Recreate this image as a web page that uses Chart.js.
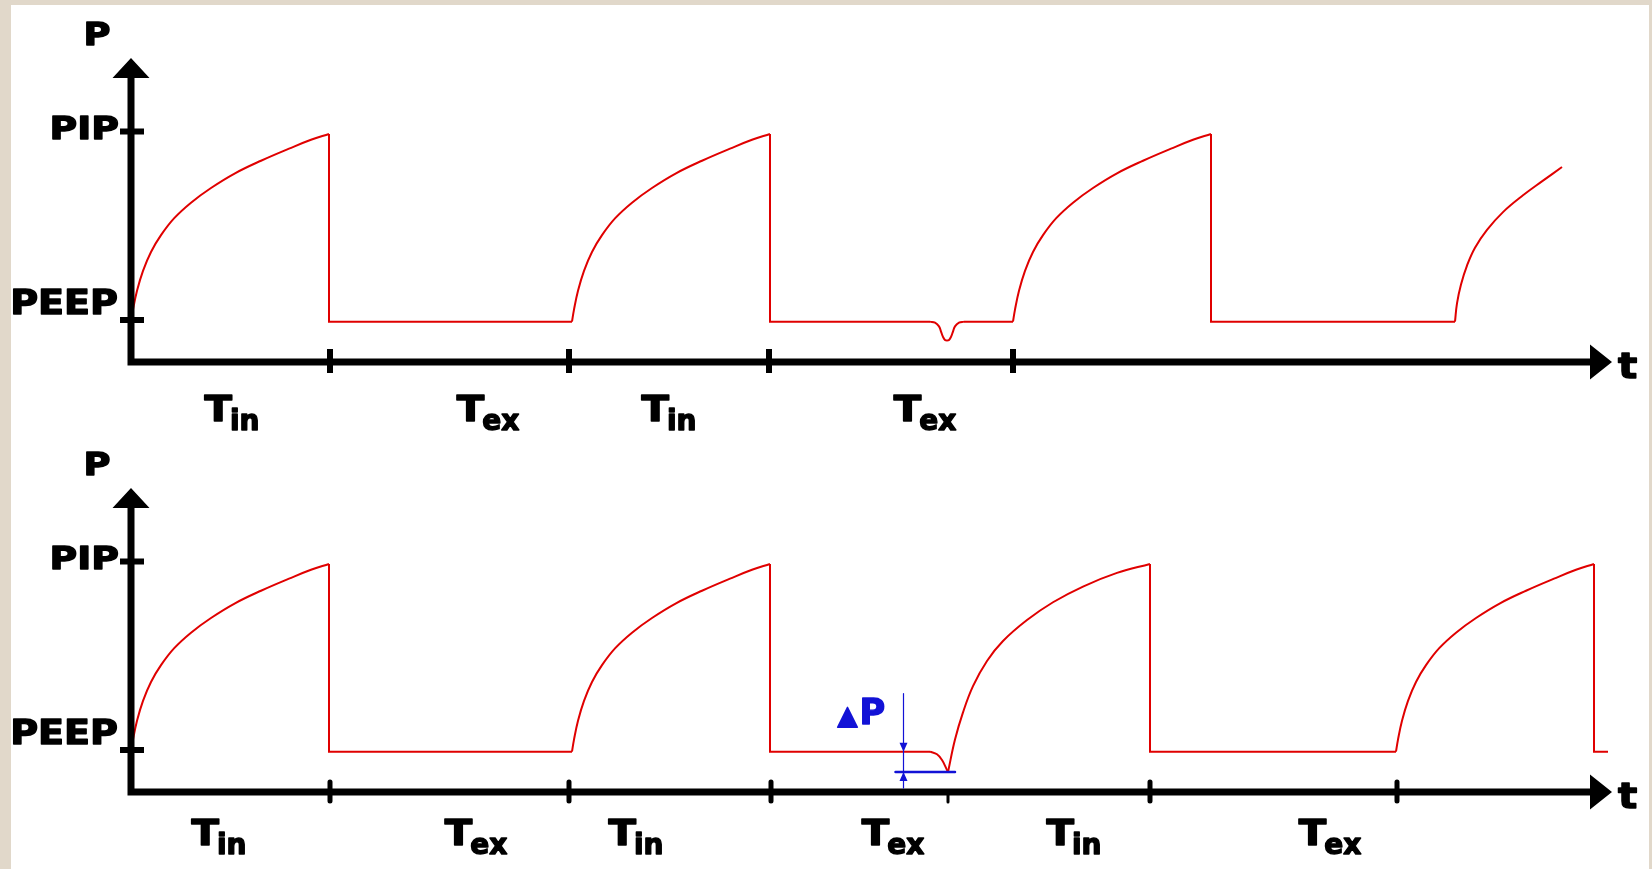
<!DOCTYPE html>
<html lang="en">
<head>
  <meta charset="UTF-8">
  <title>Airway pressure – mandatory and triggered breaths</title>
  <script src="https://cdn.jsdelivr.net/npm/chart.js"></script>
  <style>
    body {
      margin: 0;
      width: 1652px;
      height: 869px;
      overflow: hidden;
      position: relative;
      background: #e1d8ca;
    }
    .sheet {
      position: absolute;
      left: 11px;
      top: 5px;
      width: 1638px;
      height: 864px;
      background: #fff;
    }
    canvas {
      position: absolute;
      left: 0;
    }
    #topChart { top: 0; }
    #bottomChart { top: 430px; }
  </style>
</head>
<body>
  <div class="sheet"></div>
  <canvas id="topChart" width="1652" height="445"></canvas>
  <canvas id="bottomChart" width="1652" height="439"></canvas>

  <script>
    // pressure levels and axis ranges
    const PEEP = 4;
    const PIP = 22;
    const BASE = 3.85;      // expiratory plateau
    const T_MAX = 14.81;
    const P_MAX = 29;

    // one mandatory breath: [time since start, pressure]
    const riseShape = [[0, 3.85], [0.02, 5.0], [0.06, 6.8], [0.12, 8.7], [0.2, 10.5], [0.3, 12.1], [0.43, 13.7],
      [0.6, 15.2], [0.8, 16.6], [1.04, 18.0], [1.3, 19.2], [1.58, 20.35], [1.8, 21.2], [1.98, 21.75]];

    // upper trace: time-cycled breaths, one ignored effort
    const topBreaths = [0, 4.41, 8.82];
    const topDip = [[7.99, 3.85], [8.04, 3.75], [8.08, 3.4], [8.10, 2.9], [8.12, 2.4], [8.14, 2.1], [8.16, 2.05],
      [8.18, 2.1], [8.20, 2.4], [8.22, 2.9], [8.24, 3.4], [8.28, 3.75], [8.33, 3.85]];
    const topTail = [[13.24, 3.85], [13.26, 5.6], [13.30, 7.4], [13.36, 9.2], [13.44, 10.9], [13.56, 12.6],
      [13.72, 14.3], [13.92, 15.9], [14.12, 17.3], [14.31, 18.6]];
    const topTicks = [1.99, 4.38, 6.38, 8.82];
    const topPhases = [['in', 1.01], ['ex', 3.57], ['in', 5.38], ['ex', 7.94]];

    // lower trace: the effort triggers a breath
    const bottomBreaths = [0, 4.41, 12.65];
    const bottomDip = [[7.99, 3.85], [8.06, 3.6], [8.11, 3.05], [8.15, 2.3], [8.17, 1.9]];
    const bottomTrigger = [[8.17, 1.9], [8.24, 5.0], [8.32, 7.6], [8.42, 10.1], [8.56, 12.5], [8.72, 14.4],
      [8.96, 16.4], [9.22, 18.1], [9.52, 19.6], [9.86, 20.9], [10.19, 21.75]];
    const bottomEnd = 14.77;
    const bottomTicks = [1.99, 4.38, 6.40, 10.19, 12.66];
    const bottomMinorTicks = [8.17];
    const bottomPhases = [['in', 0.88], ['ex', 3.45], ['in', 5.05], ['ex', 7.62], ['in', 9.43], ['ex', 11.99]];
    const deltaPAt = 7.72;

    const RED = '#e00000';
    const INK = '#000';
    const BLUE = '#1212d6';
    const FONT = '"DejaVu Sans", sans-serif';

    function rise(start) {
      return riseShape.map(([dt, p]) => [start + dt, p]);
    }

    // smooth runs joined by straight drops to the plateau and flat stretches
    function segments(runs) {
      const segs = [];
      runs.forEach((run, i) => {
        if (i > 0) {
          const prev = runs[i - 1];
          const last = prev[prev.length - 1];
          const first = run[0];
          if (last[0] !== first[0] || last[1] !== first[1]) {
            const step = [last];
            if (last[1] !== BASE) step.push([last[0], BASE]);
            step.push(first);
            segs.push({ smooth: false, pts: step });
          }
        }
        segs.push({ smooth: true, pts: run });
      });
      return segs;
    }

    const topSegments = segments([
      rise(topBreaths[0]), rise(topBreaths[1]), topDip, rise(topBreaths[2]), topTail
    ]);
    const bottomSegments = segments([
      rise(bottomBreaths[0]), rise(bottomBreaths[1]), bottomDip, bottomTrigger,
      rise(bottomBreaths[2]), [[bottomEnd, BASE]]
    ]);

    // heavy bold text, optionally stretched sideways
    function label(ctx, str, x, y, size, align, sx, color) {
      ctx.save();
      ctx.font = 'bold ' + size + 'px ' + FONT;
      ctx.textAlign = align;
      ctx.textBaseline = 'alphabetic';
      ctx.fillStyle = color || INK;
      ctx.strokeStyle = color || INK;
      ctx.lineWidth = 1.4;
      ctx.lineJoin = 'round';
      ctx.translate(x, y);
      ctx.scale(sx, 1);
      ctx.fillText(str, 0, 0);
      ctx.strokeText(str, 0, 0);
      ctx.restore();
    }

    function axesPlugin(cfg) {
      return {
        id: 'pressureAxes',
        afterDatasetsDraw(chart) {
          const { ctx, scales: { x, y } } = chart;
          const x0 = x.getPixelForValue(0);
          const y0 = y.getPixelForValue(0);
          const top = y.getPixelForValue(P_MAX);
          const right = x.getPixelForValue(T_MAX);

          ctx.save();
          ctx.fillStyle = INK;
          ctx.strokeStyle = INK;

          // axis lines
          ctx.lineWidth = 7;
          ctx.lineCap = 'butt';
          ctx.beginPath();
          ctx.moveTo(x0, y0 + 3.5);
          ctx.lineTo(x0, top + 18);
          ctx.moveTo(x0 - 3.5, y0);
          ctx.lineTo(right - 20, y0);
          ctx.stroke();

          // arrowheads
          ctx.beginPath();
          ctx.moveTo(x0 - 18.5, top + 20);
          ctx.lineTo(x0 + 18.5, top + 20);
          ctx.lineTo(x0, top);
          ctx.closePath();
          ctx.moveTo(right - 22, y0 - 17.5);
          ctx.lineTo(right - 22, y0 + 17.5);
          ctx.lineTo(right, y0);
          ctx.closePath();
          ctx.fill();

          // PIP / PEEP ticks
          ctx.lineWidth = 6;
          ctx.beginPath();
          [PIP, PEEP].forEach(v => {
            const py = y.getPixelForValue(v);
            ctx.moveTo(x0 - 11, py);
            ctx.lineTo(x0 + 13, py);
          });
          ctx.stroke();

          // time ticks
          ctx.lineWidth = cfg.tickWidth;
          ctx.lineCap = cfg.tickCap;
          ctx.beginPath();
          cfg.ticks.forEach(t => {
            const px = x.getPixelForValue(t);
            ctx.moveTo(px, y0 - cfg.tickUp);
            ctx.lineTo(px, y0 + cfg.tickDown);
          });
          ctx.stroke();
          ctx.lineWidth = 3;
          ctx.beginPath();
          (cfg.minorTicks || []).forEach(t => {
            const px = x.getPixelForValue(t);
            ctx.moveTo(px, y0 + 3);
            ctx.lineTo(px, y0 + 10);
          });
          ctx.stroke();

          // axis names
          label(ctx, 'P', x0 - 34, top - 13, 32, 'center', 1.15);
          label(ctx, 'PIP', x0 - 12, y.getPixelForValue(PIP) + 8, 32, 'right', 1.18);
          label(ctx, 'PEEP', x0 - 13, y.getPixelForValue(PEEP) - 6, 34, 'right', 1.12);
          label(ctx, 't', right + 6, y0 + 16, 35, 'left', 1.15);

          // inspiration / expiration spans
          cfg.phases.forEach(([sub, t]) => {
            const cx = x.getPixelForValue(t);
            ctx.font = 'bold 35px ' + FONT;
            const wT = ctx.measureText('T').width * 1.15;
            ctx.font = 'bold 28px ' + FONT;
            const wS = ctx.measureText(sub).width;
            const left = cx - (wT + wS - 2) / 2;
            label(ctx, 'T', left, y0 + cfg.labelDrop, 35, 'left', 1.15);
            label(ctx, sub, left + wT - 2, y0 + cfg.labelDrop + 9, 28, 'left', 1);
          });

          if (cfg.extra) cfg.extra(chart);
          ctx.restore();
        }
      };
    }

    // trigger sensitivity marker on the lower trace
    function drawDeltaP(chart) {
      const { ctx, scales: { x, y } } = chart;
      const lx = Math.round(x.getPixelForValue(deltaPAt)) + 0.5;
      const hiY = y.getPixelForValue(BASE);
      const dipLow = bottomDip[bottomDip.length - 1];
      const loY = y.getPixelForValue(dipLow[1]);

      ctx.save();
      ctx.strokeStyle = BLUE;
      ctx.fillStyle = BLUE;
      ctx.lineWidth = 1.2;
      ctx.beginPath();
      ctx.moveTo(lx, hiY - 58);
      ctx.lineTo(lx, loY + 16);
      ctx.stroke();

      ctx.lineWidth = 2.5;
      ctx.beginPath();
      ctx.moveTo(lx - 8, loY);
      ctx.lineTo(x.getPixelForValue(dipLow[0]) + 7, loY);
      ctx.stroke();

      ctx.beginPath();
      ctx.moveTo(lx - 4, hiY - 9);
      ctx.lineTo(lx + 4, hiY - 9);
      ctx.lineTo(lx, hiY);
      ctx.closePath();
      ctx.moveTo(lx - 4, loY + 9);
      ctx.lineTo(lx + 4, loY + 9);
      ctx.lineTo(lx, loY);
      ctx.closePath();
      ctx.fill();
      ctx.restore();

      label(ctx, '\u25B2', lx - 66, hiY - 28, 26, 'left', 1, BLUE);
      label(ctx, 'P', lx - 44, hiY - 28, 35, 'left', 1, BLUE);
    }

    function makePanel(id, segs, bottomPad, cfg) {
      const canvas = document.getElementById(id);
      return new Chart(canvas.getContext('2d'), {
        type: 'line',
        data: {
          datasets: segs.map(seg => ({
            data: seg.pts.map(([t, p]) => ({ x: t, y: p })),
            borderColor: RED,
            borderWidth: 2,
            pointRadius: 0,
            fill: false,
            tension: seg.smooth ? 0.4 : 0
          }))
        },
        options: {
          responsive: false,
          animation: false,
          devicePixelRatio: 1,
          events: [],
          layout: { padding: { left: 131, right: 40, top: 58, bottom: bottomPad } },
          scales: {
            x: { type: 'linear', min: 0, max: T_MAX, display: false },
            y: { type: 'linear', min: 0, max: P_MAX, display: false }
          },
          plugins: {
            legend: { display: false },
            tooltip: { enabled: false }
          }
        },
        plugins: [axesPlugin(cfg)]
      });
    }

    makePanel('topChart', topSegments, 83, {
      ticks: topTicks,
      phases: topPhases,
      tickUp: 13, tickDown: 11, tickWidth: 6, tickCap: 'butt',
      labelDrop: 59
    });

    makePanel('bottomChart', bottomSegments, 77, {
      ticks: bottomTicks,
      minorTicks: bottomMinorTicks,
      phases: bottomPhases,
      tickUp: 10, tickDown: 9, tickWidth: 5, tickCap: 'round',
      labelDrop: 53,
      extra: drawDeltaP
    });
  </script>
</body>
</html>
